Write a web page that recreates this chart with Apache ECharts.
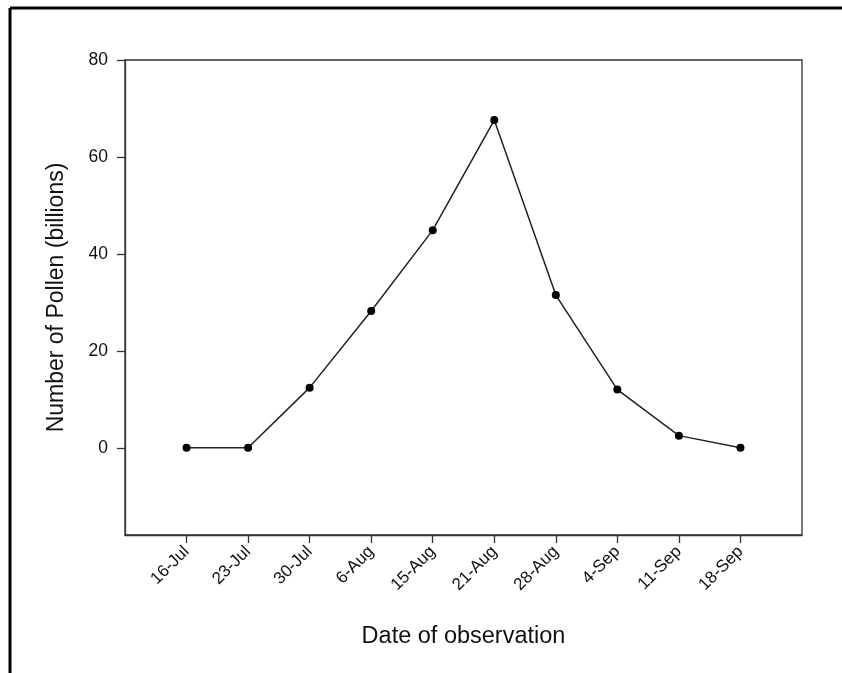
<!DOCTYPE html>
<html>
<head>
<meta charset="utf-8">
<script src="https://cdn.jsdelivr.net/npm/echarts@6/dist/echarts.min.js"></script>
<style>
html,body{margin:0;padding:0;background:#fff;}
#chart{width:842px;height:673px;}
</style>
</head>
<body>
<div id="chart"></div>
<script>
const dates = ['16-Jul','23-Jul','30-Jul','6-Aug','15-Aug','21-Aug','28-Aug','4-Sep','11-Sep','18-Sep'];
const pollen = [0, 0, 12.4, 28.2, 44.9, 67.6, 31.5, 12.0, 2.5, 0];
const yTicks = [0, 20, 40, 60, 80];

const chart = echarts.init(document.getElementById('chart'));
const font = 'Liberation Sans, Arial, sans-serif';
chart.setOption({
  animation: false,
  backgroundColor: '#fff',
  grid: {left: 125, top: 60, right: 40, bottom: 138, show: true, borderColor: '#333', borderWidth: 1.3, backgroundColor: 'transparent'},
  xAxis: {
    type: 'value', min: -1, max: 10,
    name: 'Date of observation', nameLocation: 'middle', nameGap: 90,
    nameTextStyle: {fontFamily: font, fontSize: 23.5, color: '#111'},
    axisLine: {show: true, onZero: false, lineStyle: {color: '#333', width: 1.3}},
    axisTick: {show: true, length: 8, inside: false, customValues: dates.map((d, i) => i), lineStyle: {color: '#333', width: 1.3}},
    axisLabel: {customValues: dates.map((d, i) => i), rotate: 45, margin: 14, fontFamily: font, fontSize: 17, color: '#111',
      formatter: v => dates[Math.round(v)] || ''},
    splitLine: {show: false}
  },
  yAxis: {
    type: 'value', min: -18, max: 80,
    name: 'Number of Pollen (billions)', nameLocation: 'middle', nameGap: 57,
    nameTextStyle: {fontFamily: font, fontSize: 23, color: '#111'},
    axisLine: {show: true, onZero: false, lineStyle: {color: '#333', width: 1.3}},
    axisTick: {show: true, length: 8, inside: false, customValues: yTicks, lineStyle: {color: '#333', width: 1.3}},
    axisLabel: {customValues: yTicks, margin: 17, fontFamily: font, fontSize: 17.5, color: '#111'},
    splitLine: {show: false}
  },
  series: [{
    type: 'line',
    data: pollen.map((v, i) => [i, v]),
    symbol: 'circle', symbolSize: 8,
    itemStyle: {color: '#000'},
    lineStyle: {color: '#222', width: 1.5}
  }],
  graphic: [
    {type: 'line', shape: {x1: 10, y1: 8, x2: 842, y2: 8}, style: {stroke: '#000', lineWidth: 3}},
    {type: 'line', shape: {x1: 10, y1: 8, x2: 10, y2: 673}, style: {stroke: '#000', lineWidth: 3}}
  ]
});
</script>
</body>
</html>
